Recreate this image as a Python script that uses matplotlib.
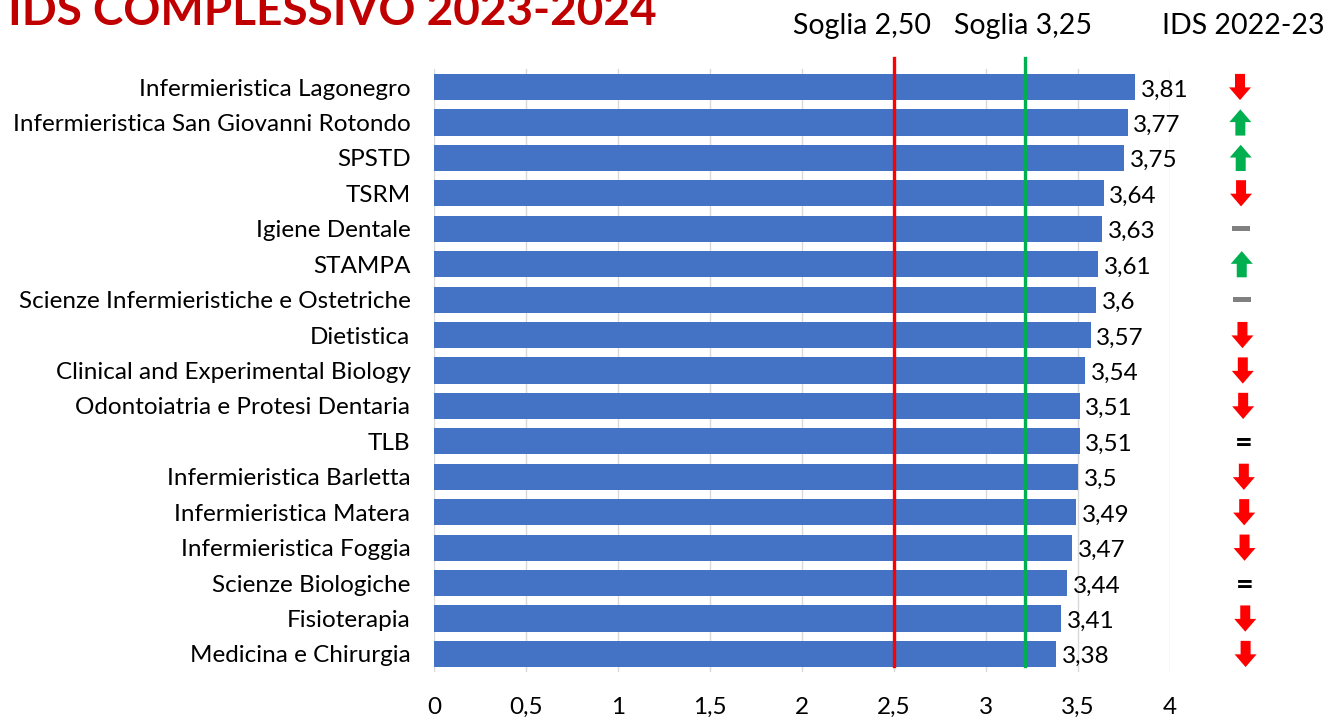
import matplotlib
matplotlib.use('Agg')
import matplotlib.pyplot as plt
from matplotlib.patches import FancyArrow, Rectangle

plt.rcParams['font.family'] = ['Lato', 'DejaVu Sans']

corsi = ['Infermieristica Lagonegro', 'Infermieristica San Giovanni Rotondo', 'SPSTD', 'TSRM',
         'Igiene Dentale', 'STAMPA', 'Scienze Infermieristiche e Ostetriche', 'Dietistica',
         'Clinical and Experimental Biology', 'Odontoiatria e Protesi Dentaria', 'TLB',
         'Infermieristica Barletta', 'Infermieristica Matera', 'Infermieristica Foggia',
         'Scienze Biologiche', 'Fisioterapia', 'Medicina e Chirurgia']
ids = [3.81, 3.77, 3.75, 3.64, 3.63, 3.61, 3.6, 3.57, 3.54, 3.51, 3.51, 3.5, 3.49, 3.47, 3.44, 3.41, 3.38]
# trend vs IDS 2022-23
trend = ['down', 'up', 'up', 'down', 'dash', 'up', 'dash', 'down', 'down', 'down', 'eq',
         'down', 'down', 'down', 'eq', 'down', 'down']
soglia_rossa = 2.5
soglia_verde = 3.21
xticks = [0, 0.5, 1, 1.5, 2, 2.5, 3, 3.5, 4]

W, H = 1337, 717
fig = plt.figure(figsize=(W / 100, H / 100), dpi=100)
ax = fig.add_axes([434 / W, 1 - 671.7 / H, 736 / W, (671.7 - 69.3) / H])

y = list(range(len(corsi)))
ax.barh(y, ids, height=0.74, color='#4472C4', zorder=2)
ax.set_ylim(len(corsi) - 0.5, -0.5)
ax.set_xlim(0, 4)
ax.set_yticks(y)
ax.set_yticklabels(corsi, fontsize=17.5)
ax.set_xticks(xticks)
ax.set_xticklabels([('%g' % t).replace('.', ',') for t in xticks], fontsize=17.5)
ax.tick_params(axis='y', length=0, pad=17)
ax.tick_params(axis='x', length=0, pad=18)
ax.grid(axis='x', color='#d9d9d9', linewidth=1, zorder=0)
for s in ax.spines.values():
    s.set_visible(False)

for i, v in enumerate(ids):
    ax.text(v + 0.03, i + 0.08, ('%g' % v).replace('.', ','), va='center', ha='left', fontsize=17.5)

ax.plot([soglia_rossa, soglia_rossa], [-0.82, 16.33], color='#FF0000', lw=2.4, zorder=3, clip_on=False)
ax.plot([soglia_verde, soglia_verde], [-0.82, 16.33], color='#00B050', lw=2.4, zorder=3, clip_on=False)

fig.text(862 / W, 1 - 26 / H, 'Soglia 2,50', ha='center', va='center', fontsize=20.5)
fig.text(1023 / W, 1 - 26 / H, 'Soglia 3,25', ha='center', va='center', fontsize=20.5)
fig.text(1243 / W, 1 - 26 / H, 'IDS 2022-23', ha='center', va='center', fontsize=20.5)
fig.text(8 / W, 1 - 12 / H, 'IDS COMPLESSIVO 2023-2024', ha='left', va='center',
         fontsize=33, fontweight='bold', color='#C00000')

# trend indicators
ax2 = fig.add_axes([1210 / W, 1 - 671.7 / H, 60 / W, (671.7 - 69.3) / H])
ax2.set_xlim(0, 60)
ax2.set_ylim(len(corsi) - 0.5, -0.5)
ax2.axis('off')
for i, t in enumerate(trend):
    xc = 30 + i * 0.35
    if t == 'down':
        ax2.add_patch(FancyArrow(xc, i - 0.37, 0, 0.74, width=10, head_width=22, head_length=0.36,
                                 length_includes_head=True, color='#FF0000', lw=0))
    elif t == 'up':
        ax2.add_patch(FancyArrow(xc, i + 0.37, 0, -0.74, width=10, head_width=22, head_length=0.36,
                                 length_includes_head=True, color='#00B050', lw=0))
    elif t == 'dash':
        ax2.add_patch(Rectangle((xc - 9, i - 0.07), 18, 0.14, color='#808080', lw=0))
    else:
        ax2.text(xc, i + 0.05, '=', ha='center', va='center', fontsize=22, fontweight='bold')

fig.savefig('out.png', dpi=100)
